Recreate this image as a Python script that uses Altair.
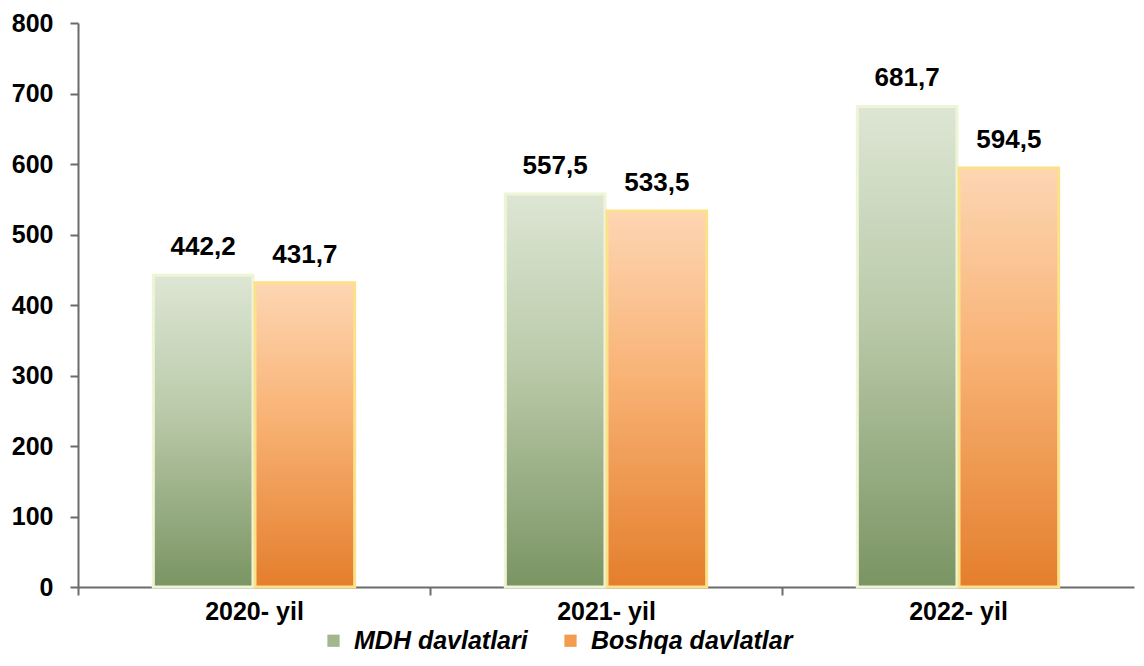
import altair as alt
import pandas as pd

years = ["2020- yil", "2021- yil", "2022- yil"]
series_names = ["MDH davlatlari", "Boshqa davlatlar"]
mdh = [442.2, 557.5, 681.7]
boshqa = [431.7, 533.5, 594.5]

rows = []
for y, a, b in zip(years, mdh, boshqa):
    rows.append({"year": y, "series": series_names[0], "value": a})
    rows.append({"year": y, "series": series_names[1], "value": b})
df = pd.DataFrame(rows)
df["label"] = df["value"].map(lambda v: f"{v:.1f}".replace(".", ","))

FONT = "Liberation Sans"
W, H = 1056, 564
HALF_STEP = W / 3 / 2

green_grad = alt.LinearGradient(
    gradient="linear", x1=0, y1=0, x2=0, y2=1,
    stops=[alt.GradientStop(color="#dde6d4", offset=0),
           alt.GradientStop(color="#b9c9a8", offset=0.45),
           alt.GradientStop(color="#7a9463", offset=1)])
orange_grad = alt.LinearGradient(
    gradient="linear", x1=0, y1=0, x2=0, y2=1,
    stops=[alt.GradientStop(color="#fdd6b3", offset=0),
           alt.GradientStop(color="#f8b274", offset=0.45),
           alt.GradientStop(color="#e47e2c", offset=1)])

x_enc = alt.X("year:N", sort=years, title=None,
              scale=alt.Scale(paddingInner=0.428, paddingOuter=0.214),
              axis=alt.Axis(labelAngle=0, tickOffset=-HALF_STEP, labelOffset=HALF_STEP,
                            domainColor="#6b6b6b",
                            domainWidth=2, tickColor="#6b6b6b", tickWidth=2, tickSize=8,
                            labelPadding=4, labelFont=FONT, labelFontSize=25,
                            labelFontWeight="bold", labelColor="#000000", grid=False))
xo_enc = alt.XOffset("series:N", sort=series_names, scale=alt.Scale(paddingInner=0.02))
y_enc = alt.Y("value:Q", title=None,
              scale=alt.Scale(domain=[0, 800], nice=False),
              axis=alt.Axis(values=list(range(0, 801, 100)), domainColor="#6b6b6b",
                            domainWidth=2, tickColor="#6b6b6b", tickWidth=2, tickSize=8,
                            labelPadding=17, labelFont=FONT, labelFontSize=25,
                            labelFontWeight="bold", labelColor="#000000", grid=False))

base = alt.Chart(df)

legend_bars = base.mark_bar().encode(
    x=x_enc, xOffset=xo_enc, y=y_enc,
    color=alt.Color("series:N", sort=series_names,
                    scale=alt.Scale(domain=series_names, range=["#a3b78f", "#f39c4f"]),
                    legend=alt.Legend(title=None, orient="none", direction="horizontal",
                                      legendX=243, legendY=605, symbolType="square",
                                      symbolSize=150, labelFont=FONT, labelFontSize=25,
                                      labelFontWeight="bold", labelFontStyle="italic",
                                      labelColor="#000000", labelOffset=8,
                                      columnPadding=30, labelLimit=400)))

green_bars = base.transform_filter(alt.datum.series == series_names[0]).mark_bar(
    fill=green_grad, stroke="#eef5d6", strokeWidth=3).encode(
    x=x_enc, xOffset=xo_enc, y=y_enc)
orange_bars = base.transform_filter(alt.datum.series == series_names[1]).mark_bar(
    fill=orange_grad, stroke="#fde08a", strokeWidth=3).encode(
    x=x_enc, xOffset=xo_enc, y=y_enc)

labels = base.mark_text(dy=-28, font=FONT, fontSize=26, fontWeight="bold",
                        color="#000000").encode(
    x=x_enc, xOffset=xo_enc, y=y_enc, text="label:N")

chart = alt.layer(legend_bars, green_bars, orange_bars, labels).properties(
    width=W, height=H,
    autosize=alt.AutoSizeParams(type="none"),
    padding={"left": 70, "top": 15, "right": 2, "bottom": 71},
).configure_view(stroke=None)

chart.save("out.html", embed_options={"renderer": "svg", "actions": False})
